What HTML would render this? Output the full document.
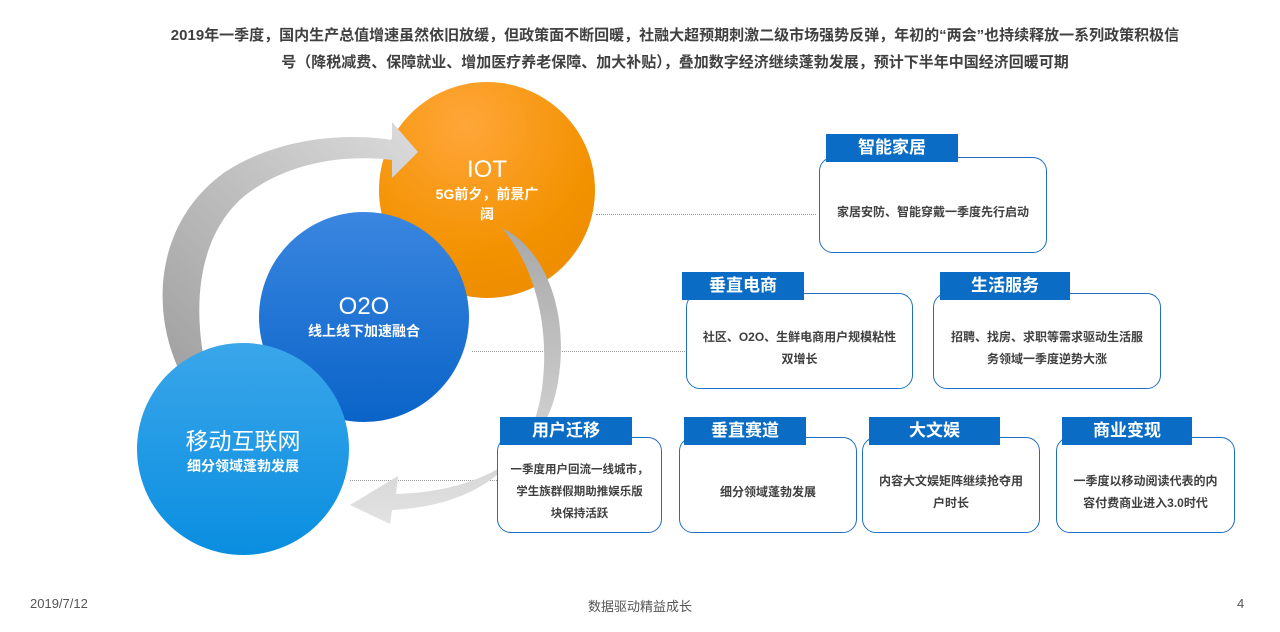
<!DOCTYPE html>
<html><head><meta charset="utf-8"><style>
body{margin:0;width:1280px;height:632px;background:#fff;position:relative;overflow:hidden;font-family:"Liberation Sans","Noto Sans CJK SC",sans-serif;}
.t{position:absolute;left:35px;width:1280px;text-align:center;font-weight:bold;font-size:15px;color:#404040;}
.c{position:absolute;border-radius:50%;color:#fff;text-align:center;display:flex;flex-direction:column;justify-content:center;align-items:center;}
.box{position:absolute;border:1.5px solid #1f6fc5;border-radius:14px;background:#fff;display:flex;align-items:center;justify-content:center;text-align:center;font-size:12px;font-weight:bold;color:#404040;line-height:22px;box-sizing:border-box;padding:14px 10px 0;}
.hd{position:absolute;background:#0a6cc4;color:#fff;font-weight:bold;font-size:17px;text-align:center;line-height:28px;height:28px;}
.dot{position:absolute;border-top:1.5px dotted #999;height:0;}
.f{position:absolute;top:596px;font-size:13px;color:#555;}
</style></head><body>
<div class="t" style="top:24px">2019年一季度，国内生产总值增速虽然依旧放缓，但政策面不断回暖，社融大超预期刺激二级市场强势反弹，年初的“两会”也持续释放一系列政策积极信</div>
<div class="t" style="top:51px">号（降税减费、保障就业、增加医疗养老保障、加大补贴），叠加数字经济继续蓬勃发展，预计下半年中国经济回暖可期</div>

<div class="dot" style="left:596px;top:214px;width:220px"></div>
<div class="dot" style="left:472px;top:351px;width:213px"></div>
<div class="dot" style="left:350px;top:480px;width:147px"></div>

<div class="c" style="left:379px;top:82px;width:216px;height:216px;background:radial-gradient(circle at 40% 20%,#ffa63a,#f39200 60%,#e88a00)">
<div style="font-size:24px;margin-top:0px">IOT</div><div style="font-size:14px;font-weight:bold;line-height:20px">5G前夕，前景广<br>阔</div></div>

<svg style="position:absolute;left:0;top:0" width="1280" height="632">
<defs><linearGradient id="ga" x1="0" y1="1" x2="1" y2="0"><stop offset="0" stop-color="#a0a0a0"/><stop offset="1" stop-color="#dcdcdc"/></linearGradient></defs>
<path d="M180,372 C150,310 155,222 225,172 C280,136 350,133 392,140 L392,122 L418,152 L392,178 L392,160 C345,154 285,162 242,198 C200,236 192,300 205,365 Z" fill="url(#ga)"/>
</svg>

<div class="c" style="left:259px;top:212px;width:210px;height:210px;background:linear-gradient(#3a86e0,#0a64c8)">
<div style="font-size:24px">O2O</div><div style="font-size:14px;font-weight:bold">线上线下加速融合</div></div>
<div class="c" style="left:137px;top:343px;width:212px;height:212px;background:linear-gradient(#3aa6ea,#0a8ee0)">
<div style="font-size:23px">移动互联网</div><div style="font-size:14px;font-weight:bold">细分领域蓬勃发展</div></div>

<svg style="position:absolute;left:0;top:0" width="1280" height="632">
<defs><linearGradient id="gb" x1="0" y1="0" x2="0" y2="1"><stop offset="0" stop-color="#a8a8a8"/><stop offset="1" stop-color="#e2e2e2"/></linearGradient></defs>
<path d="M502,228 C548,250 572,320 556,392 C540,462 472,492 396,494 L398,476 L350,505 L390,524 L392,510 C472,506 526,470 540,400 C552,338 538,270 502,228 Z" fill="url(#gb)"/>
</svg>

<div class="box" style="left:819px;top:157px;width:228px;height:96px">家居安防、智能穿戴一季度先行启动</div>
<div class="hd" style="left:826px;top:134px;width:132px">智能家居</div>
<div class="box" style="left:686px;top:293px;width:227px;height:96px">社区、O2O、生鲜电商用户规模粘性<br>双增长</div>
<div class="hd" style="left:682px;top:272px;width:122px">垂直电商</div>
<div class="box" style="left:933px;top:293px;width:228px;height:96px">招聘、找房、求职等需求驱动生活服<br>务领域一季度逆势大涨</div>
<div class="hd" style="left:940px;top:272px;width:130px">生活服务</div>
<div class="box" style="left:497px;top:437px;width:165px;height:96px;font-size:11.5px">一季度用户回流一线城市，<br>学生族群假期助推娱乐版<br>块保持活跃</div>
<div class="hd" style="left:500px;top:417px;width:132px">用户迁移</div>
<div class="box" style="left:679px;top:437px;width:178px;height:96px">细分领域蓬勃发展</div>
<div class="hd" style="left:684px;top:417px;width:122px">垂直赛道</div>
<div class="box" style="left:862px;top:437px;width:178px;height:96px">内容大文娱矩阵继续抢夺用<br>户时长</div>
<div class="hd" style="left:869px;top:417px;width:131px">大文娱</div>
<div class="box" style="left:1056px;top:437px;width:179px;height:96px">一季度以移动阅读代表的内<br>容付费商业进入3.0时代</div>
<div class="hd" style="left:1062px;top:417px;width:130px">商业变现</div>

<div class="f" style="left:30px">2019/7/12</div>
<div class="f" style="left:0;width:1280px;text-align:center">数据驱动精益成长</div>
<div class="f" style="left:1237px">4</div>
</body></html>
